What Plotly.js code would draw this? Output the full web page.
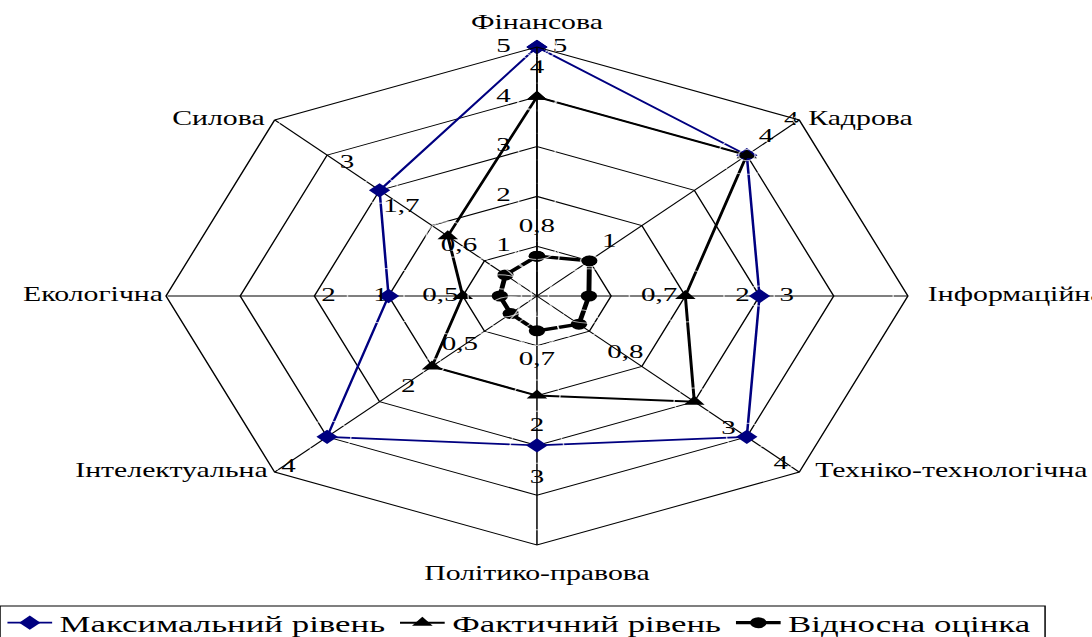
<!DOCTYPE html>
<html>
<head>
<meta charset="utf-8">
<script src="https://cdn.plot.ly/plotly-3.0.1.min.js"></script>
<style>
html,body{margin:0;padding:0;background:#fff;overflow:hidden;}
#wrap{width:1092px;height:637px;overflow:hidden;position:relative;}
#chart{width:733px;height:637px;transform:scaleX(1.4898);transform-origin:0 0;}
</style>
</head>
<body>
<div id="wrap"><div id="chart"></div></div>
<script>
// ---- data ----
const categories = ['Фінансова','Кадрова','Інформаційна','Техніко-технологічна','Політико-правова','Інтелектуальна','Екологічна','Силова'];
const maxLevel   = [5, 4, 3, 4, 3, 4, 2, 3];
const factLevel  = [4, 4, 2, 3, 2, 2, 1, 1.7];
const relScore   = [0.8, 1, 0.7, 0.8, 0.7, 0.5, 0.5, 0.6];
const seriesNames = ['Максимальний рівень', 'Фактичний рівень', 'Відносна оцінка'];
const radialTicks = [0, 1, 2, 3, 4, 5];

// ---- label placement styles (not data) ----
const catLabelPos  = ['top center','middle right','middle right','middle right','bottom center','middle left','middle left','middle left'];
const catLabelGap  = [13, 6, 13.4, 10.7, 20, 4.7, 2, 6.7];
const maxLabelPos  = ['middle right','top right','middle right','bottom right','bottom center','bottom left','middle left','top left'];
const maxLabelGap  = [10.7, 25, 13.4, 18, 23.4, 21, 35.5, 17];
const factLabelPos = ['top center','top right','middle right','bottom right','bottom center','bottom left','middle left','top left'];
const factLabelGap = [18.6, 8, 33.5, 18, 20.4, 11, 50.3, 19];
const relLabelPos  = ['top center','top right','middle right','bottom right','bottom center','bottom left','middle left','top left'];
const relLabelGap  = [19.6, 8.5, 35, 19, 19.4, 22, 27.7, 19];
const tickLabelGap = 17.6;

const SERIF = '"Liberation Serif", "Times New Roman", serif';
const closed = a => a.concat([a[0]]);
const fmt = v => String(v).replace('.', ',');
const rMax = radialTicks[radialTicks.length - 1];

function lineTrace(vals, name, color, width, symbol, size) {
  return {
    type: 'scatterpolar', mode: 'lines+markers', name: name,
    r: closed(vals), theta: closed(categories),
    line: {color: color, width: width},
    marker: {symbol: symbol, size: size, color: color},
    cliponaxis: false, hoverinfo: 'skip'
  };
}
function labelTrace(rs, thetas, texts, pos, gap, fsize) {
  return {
    type: 'scatterpolar', mode: 'markers+text', showlegend: false,
    r: rs, theta: thetas,
    text: texts, textposition: pos,
    textfont: {family: SERIF, size: fsize, color: '#000'},
    marker: {size: gap.map(g => 1.6 * (g - 1)), color: 'rgba(0,0,0,0)'},
    cliponaxis: false, hoverinfo: 'skip'
  };
}

const traces = [
  lineTrace(maxLevel, seriesNames[0], '#000080', 1.7, 'diamond', 11),
  lineTrace(factLevel, seriesNames[1], '#000000', 2, 'triangle-up', 12),
  lineTrace(relScore, seriesNames[2], '#000000', 3.3, 'circle', 11),
  labelTrace(maxLevel, categories, maxLevel.map(fmt), maxLabelPos, maxLabelGap, 19.5),
  labelTrace(factLevel, categories, factLevel.map(fmt), factLabelPos, factLabelGap, 19.5),
  labelTrace(relScore, categories, relScore.map(fmt), relLabelPos, relLabelGap, 19.5),
  // category names just outside the outer ring
  labelTrace(categories.map(() => rMax), categories, categories, catLabelPos, catLabelGap, 20),
  // radial scale labels along the first axis
  labelTrace(radialTicks, radialTicks.map(() => categories[0]), radialTicks.map(String),
             'middle left', radialTicks.map(() => tickLabelGap), 19.5)
];

const layout = {
  width: 733, height: 637,
  margin: {l: 0, r: 0, t: 0, b: 0, autoexpand: false},
  paper_bgcolor: '#fff',
  font: {family: SERIF, size: 19, color: '#000'},
  showlegend: true,
  legend: {
    orientation: 'h', x: 0, xanchor: 'left', y: 0.0565, yanchor: 'top',
    borderwidth: 0, bgcolor: 'rgba(0,0,0,0)',
    font: {family: SERIF, size: 23.4, color: '#000'}
  },
  shapes: [{
    type: 'rect', xref: 'paper', yref: 'paper',
    x0: 0, x1: 0.957, y0: -0.05, y1: 0.0487,
    line: {color: '#000', width: 1}, fillcolor: 'rgba(0,0,0,0)'
  }],
  polar: {
    domain: {x: [0.152, 0.8314], y: [0.1444, 0.9262]},
    bgcolor: '#fff',
    gridshape: 'linear',
    radialaxis: {
      range: [0, rMax], tickvals: radialTicks,
      angle: 90, showticklabels: false,
      showline: true, linecolor: '#000', linewidth: 1,
      showgrid: true, gridcolor: '#000', gridwidth: 1,
      ticks: ''
    },
    angularaxis: {
      type: 'category', direction: 'clockwise', rotation: 90,
      showline: true, linecolor: '#000', linewidth: 1,
      showgrid: true, gridcolor: '#000', gridwidth: 1,
      ticks: '', showticklabels: false
    }
  }
};

Plotly.newPlot('chart', traces, layout, {displayModeBar: false, staticPlot: true});
</script>
</body>
</html>
